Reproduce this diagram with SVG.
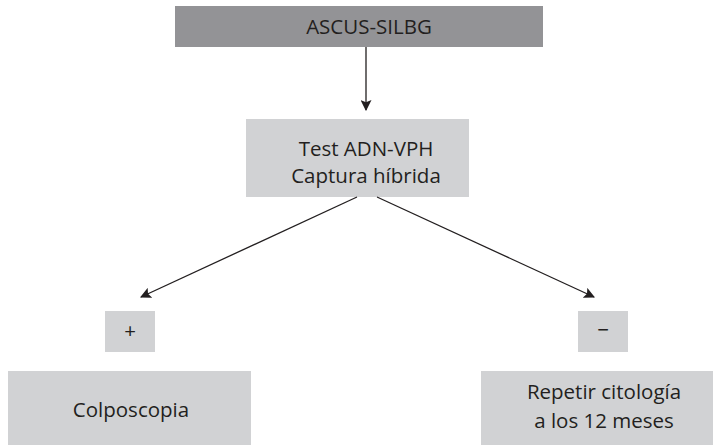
<svg xmlns="http://www.w3.org/2000/svg" width="713" height="445" viewBox="0 0 713 445">
<style>
text{font-family:"Open Sans","Liberation Sans",sans-serif;font-size:20.5px;fill:#231f20;text-anchor:middle}
.dark{fill:#939396}
.light{fill:#d1d2d4}
.conn{stroke:#231f20;stroke-width:1.3;fill:none}
</style>
<defs>
<marker id="ah" viewBox="0 0 10 10" refX="9" refY="5" markerWidth="11" markerHeight="11" markerUnits="userSpaceOnUse" orient="auto">
<path d="M0,0 L10,5 L0,10 L2,5 z" fill="#231f20"/>
</marker>
</defs>
<g id="n-ascus"><rect class="dark" x="175" y="6" width="368" height="41"/><text x="369" y="34">ASCUS-SILBG</text></g>
<g id="n-test"><rect class="light" x="246" y="119" width="223" height="78"/><text x="366" y="156">Test ADN-VPH</text><text x="366" y="183">Captura híbrida</text></g>
<g id="n-plus"><rect class="light" x="105" y="311" width="50" height="41"/><text x="130" y="338">+</text></g>
<g id="n-minus"><rect class="light" x="578" y="311" width="50" height="41"/><text x="603" y="337">−</text></g>
<g id="n-colpo"><rect class="light" x="8" y="371" width="243" height="74"/><text x="131" y="417">Colposcopia</text></g>
<g id="n-repetir"><rect class="light" x="481" y="371" width="232" height="74"/><text x="604" y="399">Repetir citología</text><text x="604" y="428">a los 12 meses</text></g>
<g id="connectors">
<line class="conn" x1="366" y1="47" x2="366" y2="110" marker-end="url(#ah)"/>
<line class="conn" x1="357" y1="197" x2="141" y2="297" marker-end="url(#ah)"/>
<line class="conn" x1="377" y1="197" x2="594" y2="297" marker-end="url(#ah)"/>
</g>
</svg>
